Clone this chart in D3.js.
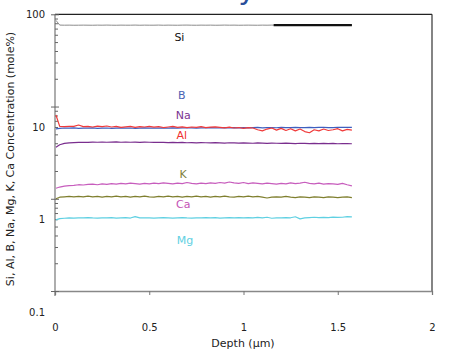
<!DOCTYPE html>
<html><head><meta charset="utf-8">
<script src="https://cdn.jsdelivr.net/npm/d3@7"></script>
<style>
html,body{margin:0;padding:0;background:#fff;}
svg{display:block;font-family:"DejaVu Sans",Verdana,sans-serif;}
</style></head>
<body><svg id="c" width="458" height="358"></svg>
<script>
// ---- data ----
const depth = [0.005,0.025,0.05,0.075,0.1,0.125,0.15,0.175,
  0.2,0.225,0.25,0.275,0.3,0.325,0.35,0.375,
  0.4,0.425,0.45,0.475,0.5,0.525,0.55,0.575,
  0.6,0.625,0.65,0.675,0.7,0.725,0.75,0.775,
  0.8,0.825,0.85,0.875,0.9,0.925,0.95,0.975,
  1.0,1.025,1.05,1.075,1.1,1.125,1.15,1.175,
  1.2,1.225,1.25,1.275,1.3,1.325,1.35,1.375,
  1.4,1.425,1.45,1.475,1.5,1.525,1.55,1.575];
const si = [86,76.4,76.2,76.3,76.1,76.2,76.3,76.2,
  76.1,76.3,76.2,76.4,76.2,76.1,76.3,76.2,
  76.2,76.4,76.1,76.3,76.2,76.2,76.4,76.1,
  76.3,76.2,76.1,76.3,76.4,76.2,76.1,76.3,
  76.2,76.3,76.1,76.2,76.4,76.2,76.3,76.1,
  76.2,76.3,76.2,76.1,76.3,76.2,76.4,76.2,
  76.3,76.1,76.2,76.3,76.2,76.4,76.1,76.2,
  76.3,76.2,76.1,76.3,76.2,76.4,76.2,76.3];
const siRefDepth = [1.16, 1.575];
const siRef = [76.4, 76.4];
const al = [8.1,6.1,6.05,6.08,6.1,6.3,6.05,6.1,
  6.0,6.12,6.05,6.15,6.0,6.08,5.95,6.02,
  6.1,5.95,6.05,6.0,6.1,5.98,6.05,5.92,
  6.0,6.08,5.95,6.02,5.92,6.0,5.95,6.05,
  5.9,5.98,6.02,5.95,5.88,5.98,5.85,5.92,
  5.8,5.9,5.85,5.6,5.45,5.7,5.85,5.55,
  5.8,5.5,5.75,5.45,5.7,5.35,5.2,5.6,
  5.45,5.7,5.5,5.6,5.75,5.45,5.65,5.55];
const b = [5.72,5.8,5.85,5.82,5.86,5.8,5.84,5.82,
  5.86,5.8,5.83,5.85,5.8,5.84,5.86,5.82,
  5.85,5.8,5.84,5.86,5.82,5.85,5.83,5.87,
  5.84,5.86,5.82,5.88,5.85,5.87,5.84,5.88,
  5.86,5.9,5.86,5.88,5.9,5.86,5.9,5.88,
  5.92,5.88,5.9,5.93,5.88,5.9,5.92,5.89,
  5.93,5.9,5.92,5.95,5.9,5.92,5.94,5.9,
  5.93,5.95,5.9,5.92,5.96,5.93,5.95,5.94];
const na = [3.62,3.85,3.98,4.04,4.07,4.08,4.1,4.09,
  4.11,4.1,4.12,4.1,4.11,4.13,4.1,4.12,
  4.1,4.11,4.09,4.12,4.1,4.08,4.1,4.09,
  4.07,4.09,4.06,4.08,4.05,4.07,4.04,4.06,
  4.05,4.03,4.06,4.04,4.02,4.05,4.03,4.01,
  4.04,4.02,4.0,4.03,4.01,3.99,4.02,4.0,
  3.98,4.01,3.99,3.97,4.0,3.98,3.96,3.99,
  3.97,3.99,3.96,3.98,3.95,3.97,3.96,3.95];
const ca = [1.30,1.34,1.37,1.39,1.40,1.42,1.41,1.43,
  1.44,1.42,1.45,1.43,1.46,1.44,1.47,1.45,
  1.48,1.46,1.44,1.47,1.45,1.48,1.46,1.49,
  1.47,1.45,1.48,1.46,1.5,1.47,1.45,1.48,
  1.46,1.49,1.47,1.5,1.48,1.52,1.49,1.47,
  1.5,1.46,1.49,1.47,1.45,1.48,1.46,1.44,
  1.47,1.45,1.49,1.46,1.48,1.51,1.47,1.45,
  1.48,1.44,1.46,1.45,1.43,1.47,1.42,1.38];
const k = [1.0,1.04,1.05,1.06,1.05,1.06,1.05,1.07,
  1.05,1.06,1.04,1.06,1.05,1.07,1.05,1.06,
  1.04,1.06,1.05,1.07,1.05,1.04,1.06,1.05,
  1.07,1.05,1.06,1.04,1.06,1.05,1.07,1.05,
  1.06,1.04,1.06,1.05,1.07,1.05,1.04,1.06,
  1.05,1.07,1.05,1.06,1.04,1.02,1.04,1.05,
  1.04,1.06,1.04,1.03,1.05,1.04,1.03,1.05,
  1.04,1.03,1.05,1.04,1.03,1.04,1.05,1.03];
const mg = [0.59,0.61,0.615,0.62,0.618,0.622,0.62,0.625,
  0.62,0.618,0.622,0.62,0.625,0.618,0.62,0.623,
  0.618,0.64,0.62,0.622,0.622,0.618,0.62,0.623,
  0.62,0.618,0.622,0.625,0.62,0.618,0.622,0.62,
  0.625,0.62,0.623,0.618,0.622,0.626,0.62,0.624,
  0.62,0.624,0.622,0.628,0.62,0.63,0.615,0.62,
  0.62,0.625,0.622,0.638,0.605,0.62,0.626,0.63,
  0.625,0.628,0.624,0.632,0.628,0.63,0.64,0.636];
const xTicks = [0, 0.5, 1, 1.5, 2];
const yMajor = [0.1, 1, 10, 100];
const yLabels = ["0.1", "1", "10", "100"];
const seriesNames = ["Si","B","Na","Al","K","Ca","Mg"];

// ---- chart ----
const svg = d3.select("#c");
const x = d3.scaleLinear().domain([0, 2]).range([55, 432]);
const y = d3.scaleLog().domain([0.1, 100]).range([291, 14.3]);

// title (sits above the visible area; only a descender shows, as in the source)
svg.append("text").attr("x", 256).attr("y", -1).attr("text-anchor", "end")
  .attr("font-size", 30).attr("fill", "#2a4f9a")
  .text("Glass Surface Chemistry");

// frame
svg.append("line").attr("x1", x(0)).attr("x2", x(2)).attr("y1", y(100)).attr("y2", y(100))
  .attr("stroke", "#222").attr("stroke-width", 1.2);
svg.append("line").attr("x1", x(2)).attr("x2", x(2)).attr("y1", y(100)).attr("y2", y(0.1))
  .attr("stroke", "#333").attr("stroke-width", 1.2);

// x axis
const xAxis = d3.axisBottom(x).tickValues(xTicks).tickSize(4).tickPadding(29)
  .tickFormat(d3.format(""));
const gx = svg.append("g").attr("transform", `translate(0,${y(0.1)})`).call(xAxis);
gx.select(".domain").attr("stroke", "#888").attr("stroke-width", 1.3);
gx.selectAll(".tick line").attr("stroke", "#777");
gx.selectAll(".tick text").attr("font-size", 10).attr("fill", "#222")
  .attr("font-family", "DejaVu Sans");

// y axis ticks (major crossing, minor inside)
const minorTicks = [];
[0.1, 1, 10].forEach(dec => { for (let m = 2; m <= 9; m++) minorTicks.push(dec * m); });
const allTicks = yMajor.concat(minorTicks);
const yAxis = d3.axisLeft(y).tickValues(allTicks).tickFormat("").tickSize(0);
const gy = svg.append("g").attr("transform", `translate(${x(0)},0)`).call(yAxis);
gy.select(".domain").attr("stroke", "#777").attr("stroke-width", 1.2)
  .attr("d", `M0,${y(100)}V${y(0.1) + 5}`);
gy.selectAll(".tick line")
  .attr("stroke", "#666")
  .attr("x1", d => yMajor.includes(d) ? -4 : 0)
  .attr("x2", d => yMajor.includes(d) ? 4 : 3);
gy.selectAll(".tick text").remove();
// y tick labels (as in source, shifted below their ticks except the top one)
svg.selectAll("text.ylab").data(yMajor).enter().append("text")
  .attr("class", "ylab")
  .attr("x", 45)
  .attr("y", (d) => y(d) + (d === 100 ? 0 : 21))
  .attr("dy", "0.35em").attr("text-anchor", "end")
  .attr("font-size", 10).attr("fill", "#222")
  .text((d, i) => yLabels[i]);

// axis titles
svg.append("text").attr("x", 243).attr("y", 346.5).attr("text-anchor", "middle")
  .attr("font-size", 11).attr("fill", "#222").text("Depth (µm)");
svg.append("text").attr("transform", "translate(14,159) rotate(-90)")
  .attr("text-anchor", "middle").attr("font-size", 11).attr("fill", "#222")
  .text("Si, Al, B, Na, Mg, K, Ca Concentration (mole%)");

// lines
const line = d3.line().x(d => x(d[0])).y(d => y(d[1]));
const series = [
  {v: si, c: "#8c8c8c", w: 1},
  {v: mg, c: "#5fd0e2", w: 1.2},
  {v: k, c: "#7f7f2e", w: 1.2},
  {v: ca, c: "#c75dbd", w: 1.2},
  {v: na, c: "#7a2e8e", w: 1.2},
  {v: b, c: "#3e5fbf", w: 1.2},
  {v: al, c: "#f03a3a", w: 1.2}
];
series.forEach(s => {
  svg.append("path").datum(depth.map((d, i) => [d, s.v[i]]))
    .attr("d", line).attr("fill", "none").attr("stroke", s.c)
    .attr("stroke-width", s.w).attr("stroke-linejoin", "round");
});
svg.append("path").datum(siRefDepth.map((d, i) => [d, siRef[i]]))
  .attr("d", line).attr("fill", "none").attr("stroke", "#111").attr("stroke-width", 2.2);

// series labels
const labelPos = {
  Si: [0.66, 56.4, "#111"], B: [0.672, 13.4, "#4a62b3"], Na: [0.68, 8.1, "#7b3491"],
  Al: [0.672, 4.92, "#f03030"], K: [0.68, 1.85, "#7f7f3c"], Ca: [0.68, 0.88, "#c453b6"],
  Mg: [0.69, 0.359, "#5fd0e2"]
};
seriesNames.forEach(n => {
  const p = labelPos[n];
  svg.append("text").attr("x", x(p[0])).attr("y", y(p[1])).attr("dy", "0.35em")
    .attr("text-anchor", "middle").attr("font-size", 11).attr("fill", p[2]).text(n);
});
</script></body></html>
